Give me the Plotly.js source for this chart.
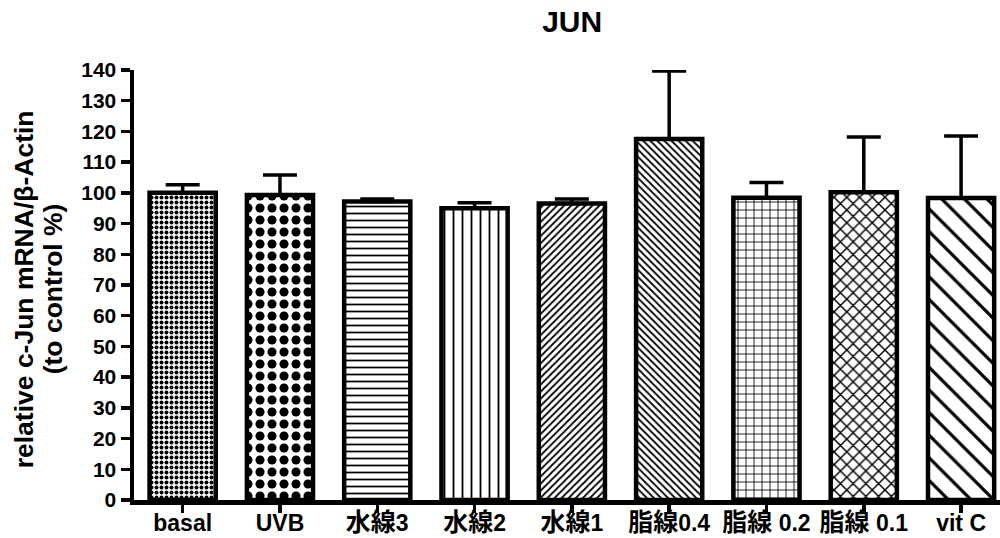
<!DOCTYPE html>
<html>
<head>
<meta charset="utf-8">
<script src="https://cdn.plot.ly/plotly-3.0.1.min.js"></script>
<style>html,body{margin:0;padding:0;background:#fff;}#chart{width:1000px;height:538px;}</style>
</head>
<body>
<div id="chart"></div>
<script>
const categories = ["basal", "UVB", "水線3", "水線2", "水線1", "脂線0.4", "脂線 0.2", "脂線 0.1", "vit C"];
const means = [100.0, 99.3, 97.2, 95.0, 96.5, 117.5, 98.4, 100.2, 98.3];
const errPlus = [2.6, 6.5, 0.8, 1.8, 1.5, 22.2, 5.0, 18.0, 20.2];
const yTicks = [0, 10, 20, 30, 40, 50, 60, 70, 80, 90, 100, 110, 120, 130, 140];
const yTitleLines = ["relative c-Jun mRNA/β-Actin", "(to control %)"];

const patternShapes = [".", ".", "-", "|", "/", "\\", "+", "x", "\\"];
const patternSizes = [5, 12, 7, 9, 5, 5, 8, 9, 16];
const patternSolidity = [0.5, 0.45, 0.25, 0.2, 0.35, 0.35, 0.2, 0.3, 0.2];

const FONT = "Liberation Sans, Arial, 'Noto Sans CJK JP', sans-serif";

// enlarge CJK glyphs in tick labels (they are wider in the reference)
const tickText = categories.map(c =>
  c.replace(/([\u3400-\u9fff]+)/g, '<span style="font-size:25px">$1</span>'));

const trace = {
  type: "bar",
  x: categories,
  y: means,
  width: 0.68,
  marker: {
    color: "#ffffff",
    line: {color: "#000000", width: 4.5},
    pattern: {
      shape: patternShapes,
      size: patternSizes,
      solidity: patternSolidity,
      fgcolor: "#000000",
      fillmode: "replace"
    }
  },
  error_y: {
    type: "data",
    symmetric: false,
    array: errPlus,
    arrayminus: means.map(() => 0),
    color: "#000000",
    thickness: 3.5,
    width: 17
  },
  hoverinfo: "x+y"
};

const plotLeft = 134, plotWidth = 866;
const layout = {
  width: 1000,
  height: 538,
  paper_bgcolor: "#ffffff",
  plot_bgcolor: "#ffffff",
  margin: {l: plotLeft, r: 0, t: 70, b: 38},
  showlegend: false,
  font: {family: FONT, color: "#000000"},
  title: {
    text: "JUN",
    font: {family: FONT, size: 30, weight: "bold", color: "#000000"},
    x: 0.506, xref: "paper", xanchor: "center",
    y: 0.96, yref: "container", yanchor: "middle"
  },
  xaxis: {
    type: "category",
    range: [-0.5, 8.4],
    tickvals: categories,
    ticktext: tickText,
    showline: true, linecolor: "#000000", linewidth: 4.5,
    ticks: "outside", ticklen: 8, tickwidth: 3.5, tickcolor: "#000000",
    ticklabelstandoff: -9,
    tickfont: {family: FONT, size: 23, weight: "bold", color: "#000000"},
    showgrid: false, zeroline: false, fixedrange: true
  },
  yaxis: {
    range: [0, 140],
    tickvals: yTicks,
    ticktext: yTicks.map(String),
    showline: true, linecolor: "#000000", linewidth: 4.5,
    ticks: "outside", ticklen: 9, tickwidth: 3.5, tickcolor: "#000000",
    tickfont: {family: FONT, size: 21, weight: "bold", color: "#000000"},
    showgrid: false, zeroline: false, fixedrange: true
  },
  annotations: [
    {text: yTitleLines[0], textangle: -90, xref: "paper", yref: "paper",
     x: (24 - plotLeft) / plotWidth, y: 0.49, xanchor: "center", yanchor: "middle",
     showarrow: false, font: {family: FONT, size: 26.5, weight: "bold", color: "#000000"}},
    {text: yTitleLines[1], textangle: -90, xref: "paper", yref: "paper",
     x: (53 - plotLeft) / plotWidth, y: 0.49, xanchor: "center", yanchor: "middle",
     showarrow: false, font: {family: FONT, size: 26.5, weight: "bold", color: "#000000"}}
  ]
};

Plotly.newPlot("chart", [trace], layout, {displayModeBar: false, staticPlot: true});
</script>
</body>
</html>
